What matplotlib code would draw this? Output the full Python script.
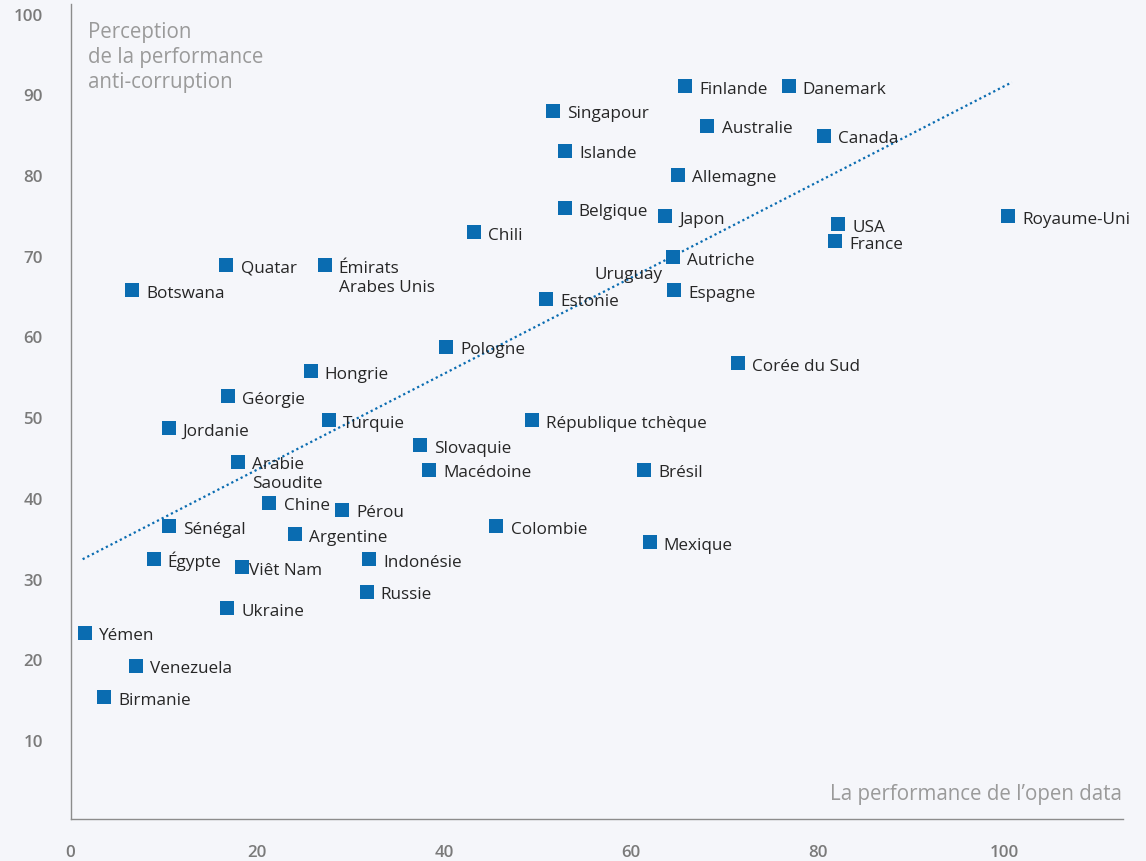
import numpy as np
import matplotlib
matplotlib.use("Agg")
import matplotlib.pyplot as plt

plt.rcParams['font.family'] = ['Open Sans', 'DejaVu Sans']

# ---- data ----
countries = ["Finlande", "Danemark", "Singapour", "Australie", "Canada", "Islande",
             "Allemagne", "Belgique", "Japon", "USA", "Royaume-Uni", "France",
             "Chili", "Quatar", "Émirats\nArabes Unis", "Autriche", "Uruguay",
             "Botswana", "Estonie", "Espagne", "Pologne", "Corée du Sud", "Hongrie",
             "Géorgie", "Turquie", "République tchèque", "Jordanie", "Slovaquie",
             "Arabie\nSaoudite", "Macédoine", "Brésil", "Chine", "Pérou", "Sénégal",
             "Colombie", "Argentine", "Mexique", "Égypte", "Indonésie", "Viêt Nam",
             "Russie", "Ukraine", "Yémen", "Venezuela", "Birmanie"]
open_data = [65.8, 76.9, 51.7, 68.2, 80.7, 53.0,
             65.0, 52.9, 63.7, 82.2, 100.4, 81.9,
             43.2, 16.7, 27.2, 64.5, 64.5,
             6.6, 50.9, 64.6, 40.2, 71.5, 25.7,
             16.9, 27.7, 49.4, 10.5, 37.4,
             17.9, 38.4, 61.4, 21.3, 29.1, 10.5,
             45.6, 24.0, 62.0, 8.9, 32.0, 18.4,
             31.7, 16.8, 1.5, 7.0, 3.6]
anti_corruption = [91.0, 91.0, 88.0, 86.1, 84.9, 83.0,
                   80.0, 75.9, 74.9, 73.9, 74.9, 71.8,
                   72.9, 68.8, 68.8, 69.8, 69.8,
                   65.7, 64.7, 65.7, 58.7, 56.7, 55.7,
                   52.6, 49.6, 49.6, 48.6, 46.5,
                   44.5, 43.5, 43.5, 39.4, 38.5, 36.5,
                   36.5, 35.5, 34.5, 32.4, 32.4, 31.4,
                   28.4, 26.3, 23.3, 19.2, 15.3]
# trend line end points
trend_x = [1.3, 100.8]
trend_y = [32.4, 91.5]
x_ticks = [0, 20, 40, 60, 80, 100]
y_ticks = [10, 20, 30, 40, 50, 60, 70, 80, 90, 100]
y_title_lines = ["Perception", "de la performance", "anti-corruption"]
x_title = "La performance de l\u2019open data"

# ---- style ----
W, H = 1146, 862
BG = "#F5F6FA"
BLUE = "#0A6CB1"
TXT = "#262626"
GREY = "#7A7A7A"
TITLE_GREY = "#9A9A9A"

fig = plt.figure(figsize=(W / 100, H / 100), dpi=100, facecolor=BG)
ax = fig.add_axes([70.5 / W, (H - 820) / H, (1123 - 70.5) / W, (820 - 5) / H])
ax.set_facecolor(BG)

ax.set_xlim(0, 112.7)
ax.set_ylim(0.21, 101.2)

ax.plot(open_data, anti_corruption, linestyle='none', marker='s', markersize=9.4,
        markerfacecolor=BLUE, markeredgewidth=0, zorder=3)

ax.plot(trend_x, trend_y, linestyle=(0, (1, 1.35)), lw=1.6,
        color=BLUE, zorder=2)

# labels
special = {"Uruguay": (-7.5, -14.5, 'right'), "Viêt Nam": (4.5, -4.6, 'left')}
line_step = 14.0
for name, xv, yv in zip(countries, open_data, anti_corruption):
    dx, dy, ha = special.get(name, (10.2, -4.6, 'left'))
    for i, line in enumerate(name.split("\n")):
        ax.annotate(line, (xv, yv), xytext=(dx, dy - i * line_step),
                    textcoords='offset points', ha=ha, va='baseline',
                    fontsize=12.3, color=TXT, zorder=4)

ax.set_xticks(x_ticks)
ax.set_yticks(y_ticks)
ax.tick_params(length=0, labelsize=12.2, labelcolor=GREY)
ax.tick_params(axis='x', pad=18)
ax.tick_params(axis='y', pad=20)
for lab in ax.get_xticklabels() + ax.get_yticklabels():
    lab.set_fontweight('semibold')

for s in ['top', 'right']:
    ax.spines[s].set_visible(False)
for s in ['left', 'bottom']:
    ax.spines[s].set_color("#8C8C8C")
    ax.spines[s].set_linewidth(1.0)

# axis titles
for i, line in enumerate(y_title_lines):
    fig.text(88 / W, 1 - (38 + 25 * i) / H, line, ha='left', va='baseline',
             fontsize=14.8, color=TITLE_GREY)
fig.text(1121.5 / W, 1 - 800 / H, x_title, ha='right', va='baseline',
         fontsize=14.8, color=TITLE_GREY)

fig.savefig("out.png", dpi=100, facecolor=BG)
